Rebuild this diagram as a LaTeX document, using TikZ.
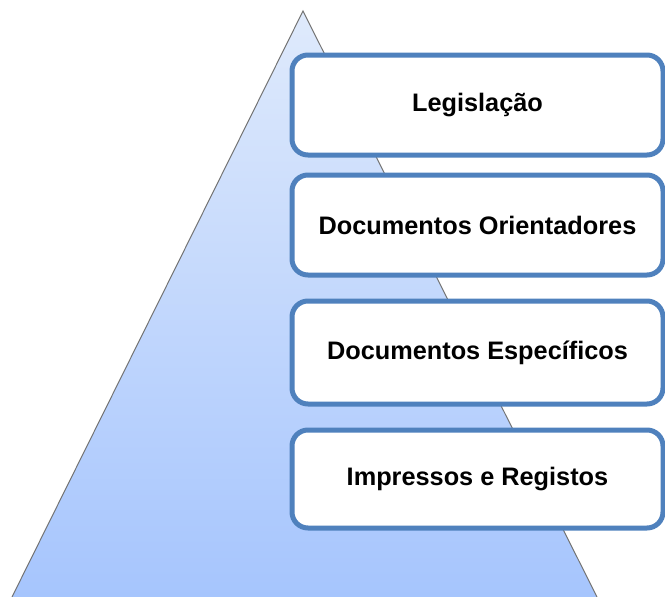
\documentclass[tikz,border=0pt]{standalone}
\usepackage{fontspec}
\setmainfont{Liberation Sans}
\definecolor{boxblue}{HTML}{4F81BD}
\definecolor{tritop}{HTML}{DFEAFC}
\definecolor{tribot}{HTML}{A6C5FD}
\begin{document}
\begin{tikzpicture}[x=1pt,y=-1pt,
  level/.style={draw=boxblue, line width=5pt, rounded corners=16pt, fill=white,
    minimum width=371pt, anchor=center, inner sep=0pt,
    font=\fontsize{25.3}{30}\selectfont\bfseries}]
\useasboundingbox (0,0) rectangle (665,597);
\coordinate (apex) at (303,11);
\coordinate (bl) at (12,597);
\coordinate (br) at (597,597);
\shade[top color=tritop, bottom color=tribot] (apex) -- (br) -- (bl) -- cycle;
\draw[gray!90!black, line width=1pt] (bl) -- (apex) -- (br);
\node[level, minimum height=100pt] (l1) at (477.5,105) {Legislação};
\node[level, minimum height=100pt] (l2) at (477.5,225) {Documentos Orientadores};
\node[level, minimum height=103pt] (l3) at (477.5,352.5) {Documentos Específicos};
\node[level, minimum height=98pt] (l4) at (477.5,479) {Impressos e Registos};
\end{tikzpicture}
\end{document}
